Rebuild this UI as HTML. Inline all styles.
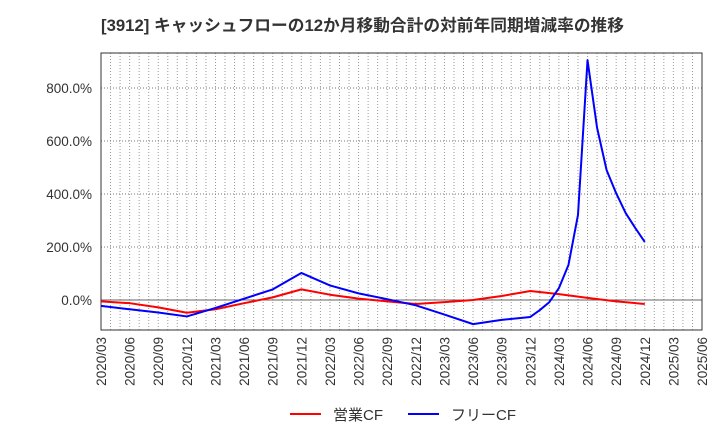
<!DOCTYPE html>
<html><head><meta charset="utf-8">
<style>
body{margin:0;background:#fff;}
svg text{font-family:"Liberation Sans","Noto Sans CJK JP",sans-serif;fill:#333;}
</style></head>
<body>
<svg width="720" height="440" xmlns="http://www.w3.org/2000/svg" id="chart">
<text x="101" y="31" font-size="16.5" font-weight="bold" textLength="523" lengthAdjust="spacingAndGlyphs">[3912]  キャッシュフローの12か月移動合計の対前年同期増減率の推移</text>
<g id="grid"></g>
<g id="axes"></g>
<g id="series"></g>
<g>
<line x1="290" y1="414" x2="321" y2="414" stroke="#ff0000" stroke-width="2"/>
<text x="333" y="420" font-size="15">営業CF</text>
<line x1="408" y1="414" x2="439" y2="414" stroke="#0000ff" stroke-width="2"/>
<text x="451" y="420" font-size="15">フリーCF</text>
</g>
</svg>
<script>
// month index from 2020/03
const redMonths = [0,3,6,9,12,15,18,21,24,27,30,33,36,39,42,45,48,51,54,57];
const redValues = [-5,-12,-28,-48,-35,-12,10,40,20,5,-5,-15,-8,0,15,34,22,8,-5,-15];
const blueMonths = [0,3,6,9,12,15,18,21,24,27,30,33,36,39,42,45,46,47,48,49,50,51,52,53,54,55,56,57];
const blueValues = [-22,-35,-47,-62,-30,5,40,102,55,25,3,-20,-55,-91,-75,-64,-38,-8,45,132,321,905,650,490,403,328,272,219];
const yTicks = [0,200,400,600,800];
const xTickLabels = ["2020/03","2020/06","2020/09","2020/12","2021/03","2021/06","2021/09","2021/12","2022/03","2022/06","2022/09","2022/12","2023/03","2023/06","2023/09","2023/12","2024/03","2024/06","2024/09","2024/12","2025/03","2025/06"];

const L=101,R=702,T=53,B=330;
const totalMonths=63;
const x=m=>L+(R-L)*m/totalMonths;
const y=v=>300-v*53/200;
const ns="http://www.w3.org/2000/svg";
function mk(tag,attrs,parent){const e=document.createElementNS(ns,tag);for(const k in attrs)e.setAttribute(k,attrs[k]);parent.appendChild(e);return e;}
const grid=document.getElementById('grid'),axes=document.getElementById('axes'),series=document.getElementById('series');
for(let m=1;m<totalMonths;m++){
  const l=mk('line',{x1:x(m),x2:x(m),y1:T,y2:B,stroke:'#999','stroke-width':1,'stroke-dasharray':'1,2'},grid);
  
  
}
yTicks.forEach(v=>{
  const l=mk('line',{x1:L,x2:R,y1:y(v),y2:y(v),stroke:v===0?'#666':'#777','stroke-width':1,'stroke-dasharray':v===0?'none':'1,2'},grid);
  
  
  const t=mk('text',{x:L-9,y:y(v)+5,'text-anchor':'end','font-size':13.5},axes);
  t.textContent=v.toFixed(1)+'%';
  
  
});
const fr=mk('rect',{x:L,y:T,width:R-L,height:B-T,fill:'none',stroke:'#333','stroke-width':1},axes);


xTickLabels.forEach((s,i)=>{
  const xx=x(i*3)+5;
  const t=mk('text',{x:xx,y:337,'text-anchor':'end','font-size':13.5,transform:`rotate(-90 ${xx} 337)`},axes);
  t.textContent=s;
  
  
});
function line(ms,vs,color,name){
  const p=mk('polyline',{points:ms.map((m,i)=>x(m)+','+y(vs[i])).join(' '),fill:'none',stroke:color,'stroke-width':2,'stroke-linejoin':'round'},series);
  
  
}
line(redMonths,redValues,'#ff0000','operating-cf-line');
line(blueMonths,blueValues,'#0000ff','free-cf-line');
</script>
</body></html>
